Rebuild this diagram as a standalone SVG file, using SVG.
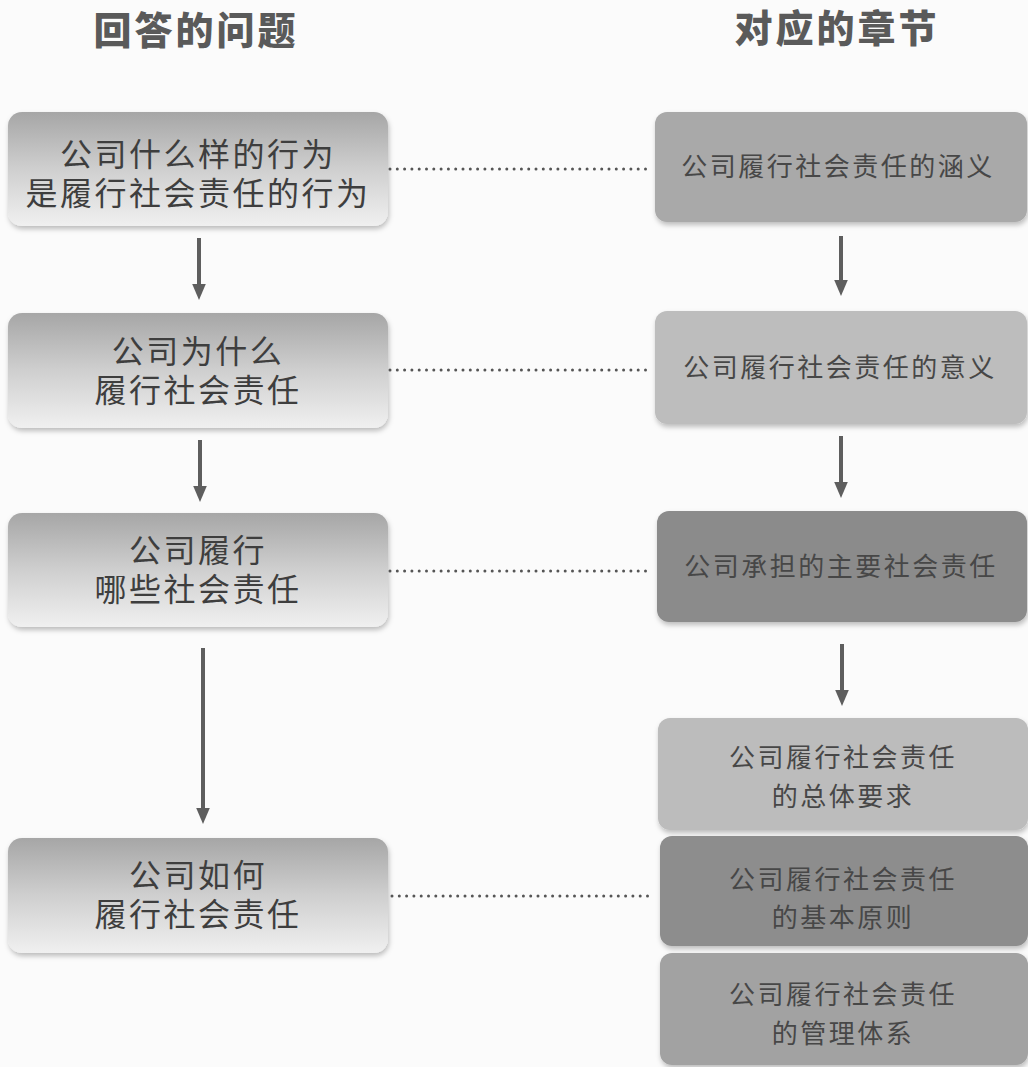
<svg xmlns="http://www.w3.org/2000/svg" width="1028" height="1067" viewBox="0 0 1028 1067">
<defs>
<linearGradient id="lg" x1="0" y1="0" x2="0" y2="1">
<stop offset="0" stop-color="#a6a6a6"/>
<stop offset="0.5" stop-color="#cfcfcf"/>
<stop offset="1" stop-color="#f0f0f0"/>
</linearGradient>
<filter id="sh" x="-5%" y="-5%" width="110%" height="115%">
<feDropShadow dx="1" dy="3" stdDeviation="2.5" flood-color="#000" flood-opacity="0.25"/>
</filter>
<marker id="ah" markerWidth="4" markerHeight="4" refX="2" refY="2" orient="auto" markerUnits="strokeWidth">
<path d="M0,0.3 L4,2 L0,3.7 z" fill="#5e5e5e"/>
</marker>
</defs>
<style>
.hd{font-family:"Noto Sans CJK SC","Noto Sans",sans-serif;font-weight:900;font-size:38px;fill:#5a5a5a;text-anchor:middle;letter-spacing:3px}
.lt{font-family:"Noto Sans CJK SC","Noto Sans",sans-serif;font-size:32px;fill:#3e3e3e;text-anchor:middle;letter-spacing:2.5px}
.rt{font-family:"Noto Sans CJK SC","Noto Sans",sans-serif;font-size:26px;fill:#474747;text-anchor:middle;letter-spacing:2.5px}
.lb{fill:url(#lg);filter:url(#sh)}
.dot{stroke:#555;stroke-width:3;stroke-linecap:round;stroke-dasharray:0 7.3;fill:none}
.ar{stroke:#5e5e5e;stroke-width:4;fill:none;marker-end:url(#ah)}
</style>
<rect width="1028" height="1067" fill="#fbfbfb"/>
<text class="hd" x="196" y="44">回答的问题</text>
<text class="hd" x="837" y="42">对应的章节</text>

<g id="q1"><rect class="lb" x="8" y="112" width="380" height="114" rx="14"/>
<text class="lt" x="198" y="166">公司什么样的行为</text>
<text class="lt" x="198" y="205">是履行社会责任的行为</text></g>
<g id="q2"><rect class="lb" x="8" y="313" width="380" height="115" rx="14"/>
<text class="lt" x="198" y="363">公司为什么</text>
<text class="lt" x="198" y="402">履行社会责任</text></g>
<g id="q3"><rect class="lb" x="8" y="513" width="380" height="114" rx="14"/>
<text class="lt" x="198" y="562">公司履行</text>
<text class="lt" x="198" y="601">哪些社会责任</text></g>
<g id="q4"><rect class="lb" x="8" y="838" width="380" height="115" rx="14"/>
<text class="lt" x="198" y="887">公司如何</text>
<text class="lt" x="198" y="926">履行社会责任</text></g>

<g id="c1"><rect x="655" y="112" width="372" height="110" rx="12" fill="#a9a9a9" filter="url(#sh)"/>
<text class="rt" x="838" y="176">公司履行社会责任的涵义</text></g>
<g id="c2"><rect x="655" y="311" width="372" height="113" rx="12" fill="#bdbdbd" filter="url(#sh)"/>
<text class="rt" x="840" y="377">公司履行社会责任的意义</text></g>
<g id="c3"><rect x="657" y="511" width="370" height="111" rx="12" fill="#8b8b8b" filter="url(#sh)"/>
<text class="rt" x="841" y="576">公司承担的主要社会责任</text></g>
<g id="c4"><rect x="658" y="718" width="370" height="112" rx="12" fill="#bcbcbc" filter="url(#sh)"/>
<text class="rt" x="843" y="767">公司履行社会责任</text>
<text class="rt" x="843" y="806">的总体要求</text></g>
<g id="c5"><rect x="660" y="836" width="368" height="110" rx="12" fill="#8d8d8d" filter="url(#sh)"/>
<text class="rt" x="843" y="889">公司履行社会责任</text>
<text class="rt" x="843" y="927">的基本原则</text></g>
<g id="c6"><rect x="660" y="953" width="368" height="112" rx="12" fill="#a2a2a2" filter="url(#sh)"/>
<text class="rt" x="843" y="1004">公司履行社会责任</text>
<text class="rt" x="843" y="1043">的管理体系</text></g>

<g id="connectors">
<line class="dot" x1="390" y1="169" x2="648" y2="169"/>
<line class="dot" x1="390" y1="370" x2="648" y2="370"/>
<line class="dot" x1="390" y1="571" x2="650" y2="571"/>
<line class="dot" x1="392" y1="896" x2="652" y2="896"/>
<line class="ar" x1="199" y1="238" x2="199" y2="292"/>
<line class="ar" x1="200" y1="440" x2="200" y2="494"/>
<line class="ar" x1="203" y1="648" x2="203" y2="816"/>
<line class="ar" x1="841" y1="236" x2="841" y2="288"/>
<line class="ar" x1="841" y1="436" x2="841" y2="490"/>
<line class="ar" x1="842" y1="644" x2="842" y2="698"/>
</g>
</svg>
